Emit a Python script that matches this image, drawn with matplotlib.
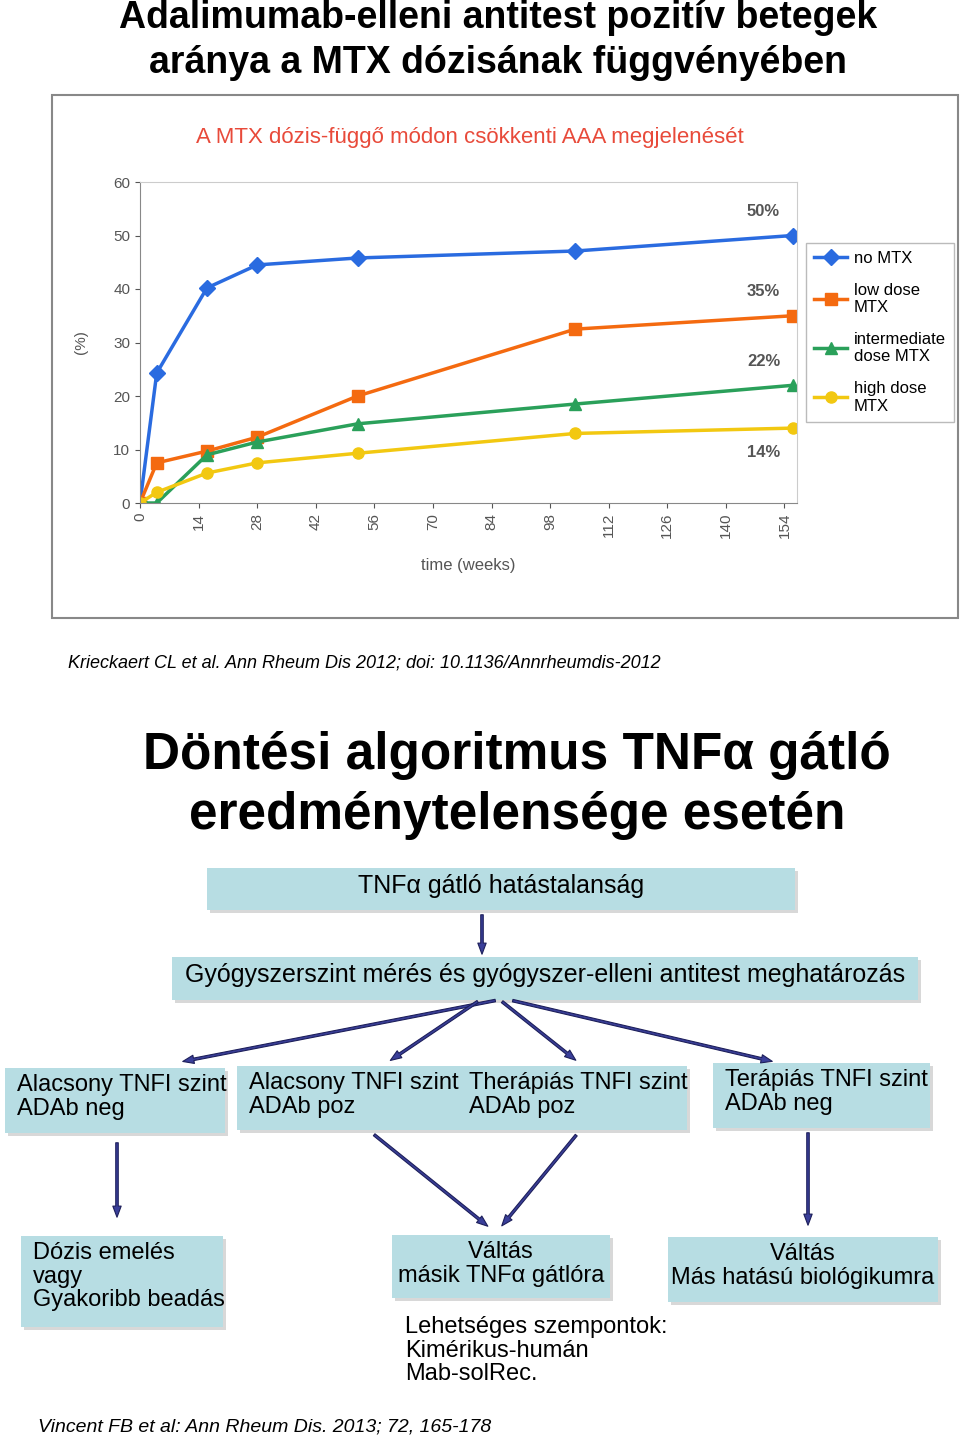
import matplotlib
matplotlib.use("Agg")
import matplotlib.pyplot as plt
from matplotlib.patches import Rectangle, FancyArrowPatch

plt.rcParams["font.family"] = "Liberation Sans"

weeks = [0, 4, 16, 28, 52, 104, 156]
no_mtx = [0, 24.3, 40.2, 44.5, 45.8, 47.1, 50]
low_mtx = [0, 7.5, 9.7, 12.3, 20, 32.5, 35]
inter_mtx = [0, 0, 9, 11.4, 14.8, 18.5, 22]
high_mtx = [0, 2, 5.6, 7.5, 9.3, 13, 14]
series_names = ["no MTX", "low dose\nMTX", "intermediate\ndose MTX", "high dose\nMTX"]
end_labels = ["50%", "35%", "22%", "14%"]
xticks = list(range(0, 155, 14))
yticks = list(range(0, 61, 10))

W, H = 960, 1438
fig = plt.figure(figsize=(9.6, 14.38), dpi=100)
bg = fig.add_axes([0, 0, 1, 1])
bg.set_xlim(0, W); bg.set_ylim(H, 0); bg.axis("off")

def ax_rect(x0, y0, x1, y1):
    return [x0 / W, 1 - y1 / H, (x1 - x0) / W, (y1 - y0) / H]

bg.text(498, 18, "Adalimumab-elleni antitest pozitív betegek", ha="center", va="center", fontsize=27, fontweight="bold")
bg.text(498, 63, "aránya a MTX dózisának függvényében", ha="center", va="center", fontsize=27, fontweight="bold")
bg.add_patch(Rectangle((52, 95), 906, 523, fill=False, ec="#888888", lw=1.5))
bg.text(470, 138, "A MTX dózis-függő módon csökkenti AAA megjelenését", ha="center", va="center", fontsize=16, color="#e84a3a")
bg.text(68, 663, "Krieckaert CL et al. Ann Rheum Dis 2012; doi: 10.1136/Annrheumdis-2012", ha="left", va="center", fontsize=13, style="italic")

ax = fig.add_axes(ax_rect(140, 182, 797, 503))
colors = ["#2a6be0", "#f46a10", "#2aa05a", "#f2c811"]
markers = ["D", "s", "^", "o"]
for vals, c, m, name in zip([no_mtx, low_mtx, inter_mtx, high_mtx], colors, markers, series_names):
    ax.plot(weeks, vals, color=c, lw=2.5, marker=m, ms=8, label=name)
ax.set_xlim(0, 157); ax.set_ylim(0, 60)
ax.set_xticks(xticks); ax.set_yticks(yticks)
ax.tick_params(axis="x", labelrotation=90, labelsize=11, colors="#555555")
ax.tick_params(axis="y", labelsize=11, colors="#555555")
for s in ["top", "right"]:
    ax.spines[s].set_color("#cccccc")
ax.spines["left"].set_color("#888888"); ax.spines["bottom"].set_color("#888888")
ax.set_ylabel("(%)", fontsize=11, color="#555555", labelpad=18)
ax.set_xlabel("time (weeks)", fontsize=12, color="#555555", labelpad=14)
for vals, lab in zip([no_mtx, low_mtx, inter_mtx, high_mtx], end_labels):
    off = 4.5 if lab != "14%" else -4.5
    ax.text(149, vals[-1] + off, lab, fontsize=12, fontweight="bold", color="#555555", ha="center", va="center")
ax.legend(loc="upper left", bbox_to_anchor=(1.013, 0.81), fontsize=12, frameon=True, edgecolor="#aaaaaa",
          fancybox=False, handlelength=2, labelspacing=1.0, borderaxespad=0, handletextpad=0.4, borderpad=0.5)

bg.text(517, 755, "Döntési algoritmus TNFα gátló", ha="center", va="center", fontsize=37, fontweight="bold")
bg.text(517, 815, "eredménytelensége esetén", ha="center", va="center", fontsize=37, fontweight="bold")

box_c = "#b7dde3"
def box(x0, y0, x1, y1, lines, ha="left", tx=None, fs=17):
    bg.add_patch(Rectangle((x0 + 3, y0 + 3), x1 - x0, y1 - y0, fc="#d8d8d8", ec="none"))
    bg.add_patch(Rectangle((x0, y0), x1 - x0, y1 - y0, fc=box_c, ec="none"))
    if tx is None:
        tx = (x0 + x1) / 2 if ha == "center" else x0 + 12
    bg.text(tx, y0 + 6, lines, ha=ha, va="top", fontsize=fs, linespacing=1.1)

box(207, 868, 795, 910, "TNFα gátló hatástalanság", ha="center", tx=501, fs=18)
box(172, 957, 918, 1000, "Gyógyszerszint mérés és gyógyszer-elleni antitest meghatározás", ha="center", fs=18)
box(5, 1068, 225, 1133, "Alacsony TNFI szint\nADAb neg")
box(237, 1066, 457, 1130, "Alacsony TNFI szint\nADAb poz")
box(457, 1066, 687, 1130, "Therápiás TNFI szint\nADAb poz")
box(713, 1063, 930, 1128, "Terápiás TNFI szint\nADAb neg")
box(21, 1236, 223, 1327, "Dózis emelés\nvagy\nGyakoribb beadás")
box(392, 1235, 610, 1298, "Váltás\nmásik TNFα gátlóra", ha="center")
box(668, 1237, 938, 1302, "Váltás\nMás hatású biológikumra", ha="center")
bg.text(405, 1316, "Lehetséges szempontok:\nKimérikus-humán\nMab-solRec.", ha="left", va="top", fontsize=17, linespacing=1.1)
bg.text(38, 1427, "Vincent FB et al: Ann Rheum Dis. 2013; 72, 165-178", ha="left", va="center", fontsize=14, style="italic")

arrows = [((482, 912), (482, 957)), ((498, 1000), (180, 1062)), ((480, 1000), (388, 1062)),
          ((500, 1000), (578, 1062)), ((510, 1000), (775, 1062)), ((117, 1140), (117, 1220)),
          ((372, 1133), (490, 1228)), ((578, 1133), (500, 1228)), ((808, 1130), (808, 1228))]
for (x0, y0), (x1, y1) in arrows:
    bg.add_patch(FancyArrowPatch((x0, y0), (x1, y1), arrowstyle="simple,head_width=6,head_length=8,tail_width=1.8",
                                 fc="#3a3f9a", ec="#1d1f5a", lw=0.8, mutation_scale=1))

fig.savefig("out.png", dpi=100)
